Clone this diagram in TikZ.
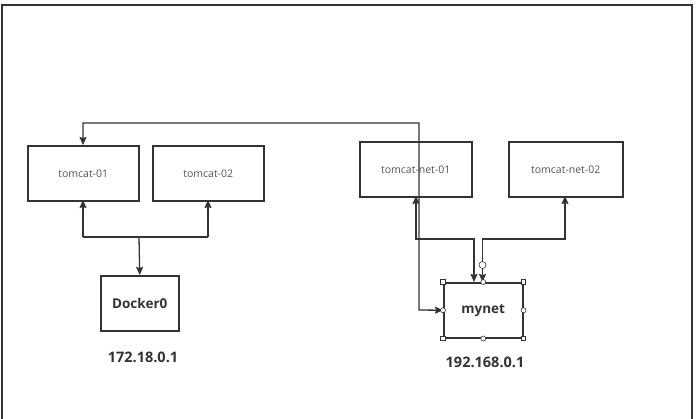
\documentclass[tikz,border=0pt]{standalone}
\usepackage{fontspec}
\setmainfont{Open Sans}
\usetikzlibrary{arrows.meta}
\definecolor{ln}{HTML}{333333}
\definecolor{tx}{HTML}{555555}
\tikzset{
  box/.style={draw=ln, line width=1.5pt, fill=white, inner sep=0pt, anchor=north west},
  small/.style={font=\fontsize{10.5}{12}\selectfont, text=tx},
  big/.style={font=\bfseries\fontsize{13.5}{15}\selectfont, text=ln},
  ip/.style={font=\bfseries\fontsize{14.5}{16}\selectfont, text=ln},
  conn/.style={draw=ln, line width=1.3pt, {Stealth[length=8pt,width=7pt,inset=1pt]}-{Stealth[length=8pt,width=7pt,inset=1pt]}},
  conn1/.style={draw=ln, line width=1.3pt, -{Stealth[length=8pt,width=7pt,inset=1pt]}},
  sq/.style={draw=ln, fill=white, line width=0.6pt, minimum size=4.5pt, inner sep=0pt},
  ci/.style={draw=ln, fill=white, circle, line width=0.6pt, minimum size=5pt, inner sep=0pt},
}
\begin{document}
\begin{tikzpicture}[x=1pt,y=-1pt]
\useasboundingbox (0,0) rectangle (696,418);
\clip (0,0) rectangle (696,418);
\fill[white] (0,0) rectangle (696,418);
\draw[ln, line width=1.5pt] (2,440) -- (2,5) -- (692,5) -- (692,440);
% boxes
\node[box, minimum width=111pt, minimum height=55pt] (t1) at (27,145) {};
\node[small] at (t1.center) {tomcat-01};
\node[box, minimum width=111pt, minimum height=55pt] (t2) at (152,145) {};
\node[small] at (t2.center) {tomcat-02};
\node[box, minimum width=112pt, minimum height=55pt] (n1) at (359,141) {};
\node[box, minimum width=114pt, minimum height=55pt] (n2) at (508,141) {};
\node[small] at (n2.center) {tomcat-net-02};
\node[box, minimum width=78pt, minimum height=55pt] (d0) at (100,275) {};
\node[big] at (d0.center) {Docker0};
\node[box, minimum width=79pt, minimum height=55pt] (mn) at (443,282) {};
\node[big] at (mn.center) {mynet};
\node[ip] (ip1) at (143,357) {172.18.0.1};
\node[ip] (ip2) at (485,362) {192.168.0.1};
% coordinates
\coordinate (t1n) at (83,145);
\coordinate (t1s) at (83,200);
\coordinate (t2s) at (208,200);
\coordinate (n1s) at (416,196);
\coordinate (n2s) at (565,196);
\coordinate (mt1) at (474,282);
\coordinate (mt2) at (482.5,282);
% connectors
\draw[conn] (t1n) -- (83,123) -- (419,123) -- (419,310) -- (mn.west);
\node[small] at (n1.center) {tomcat-net-01};
\draw[ln, line width=1.3pt] (83,237) -- (208,237);
\draw[conn1] (83,237) -- (t1s);
\draw[conn1] (208,237) -- (t2s);
\draw[conn1] (139,237) -- (d0.north);
\draw[conn] (n1s) -- (416,239) -- (474,239) -- (mt1);
\draw[conn] (n2s) -- (565,239) -- (482.5,239) -- (mt2);
% selection handles
\foreach \p in {mn.north west, mn.north east, mn.south west, mn.south east}
  \node[sq] at (\p) {};
\foreach \p in {mn.north, mn.south, mn.west, mn.east}
  \node[ci] at (\p) {};
\node[ci, minimum size=7pt] at (482.5,265) {};
\end{tikzpicture}
\end{document}
